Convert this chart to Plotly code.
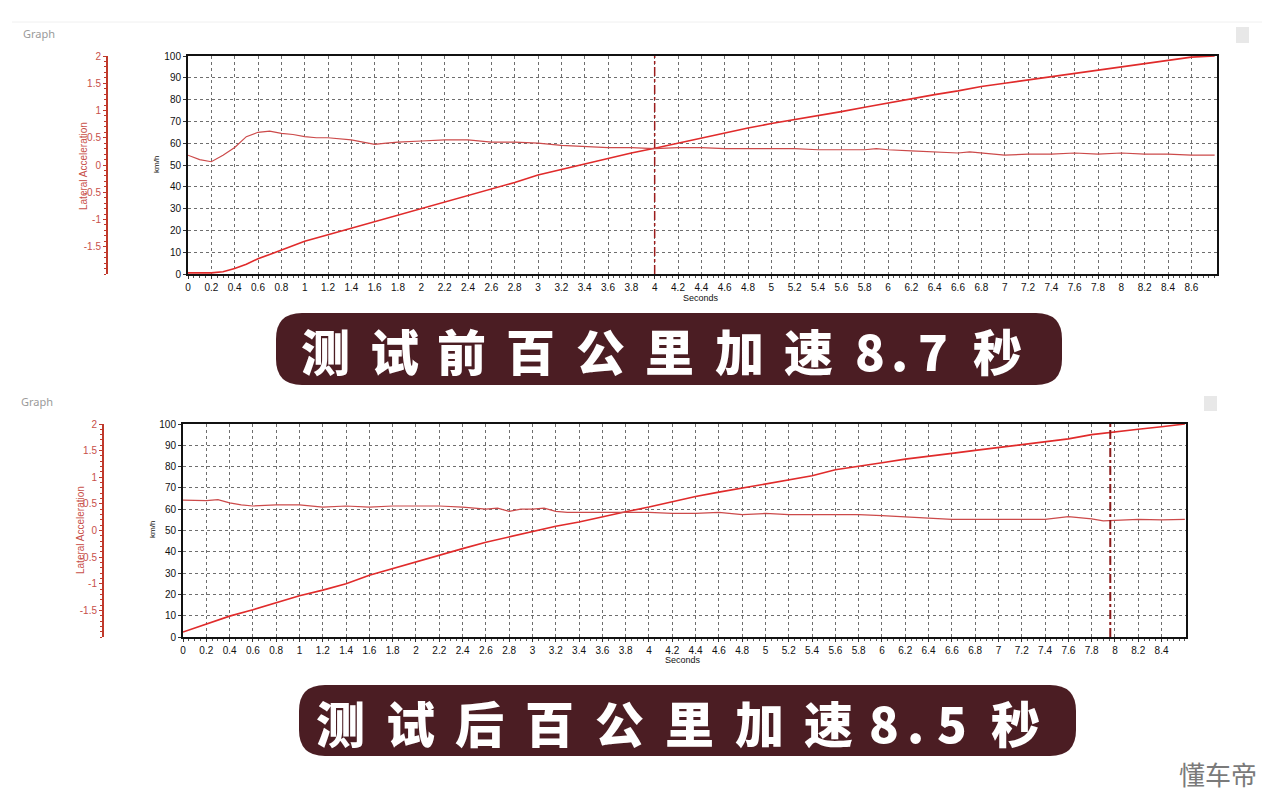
import plotly.graph_objects as go

# page body has an 8px margin: figure is drawn at (8, 8); reference coordinates are shifted
OFF = 8
W, H = 1272, 792

# ---------------- data ----------------
# Top chart (before test): speed (km/h) and lateral acceleration (g)
t1_speed = [0, 0.2, 0.3, 0.4, 0.5, 0.6, 0.7, 0.8, 0.9, 1.0, 1.2, 1.4, 1.6, 1.8, 2.0, 2.2, 2.4, 2.6, 2.8, 3.0,
            3.2, 3.4, 3.6, 3.8, 4.0, 4.2, 4.4, 4.6, 4.8, 5.0, 5.2, 5.4, 5.6, 5.8, 6.0, 6.2, 6.4, 6.6, 6.8,
            7.0, 7.2, 7.4, 7.6, 7.8, 8.0, 8.2, 8.4, 8.6, 8.8]
v1_speed = [0.5, 0.5, 1, 2.5, 4.5, 7, 9, 11, 13, 15, 18, 21, 24, 27, 30.3, 33, 36, 39, 42, 45.4,
            48, 50.5, 53, 55.5, 57.7, 60, 62.5, 64.5, 67, 69, 70.8, 72.5, 74.5, 76.5, 78.5, 80.3, 82.3, 84, 86,
            87.5, 89, 90.5, 92, 93.5, 95, 96.5, 97.8, 99.5, 100]
t1_lat = [0, 0.1, 0.2, 0.3, 0.4, 0.5, 0.6, 0.7, 0.8, 0.9, 1.0, 1.1, 1.2, 1.4, 1.5, 1.6, 1.7, 1.8, 2.0, 2.2,
          2.4, 2.6, 2.8, 3.0, 3.2, 3.4, 3.6, 3.8, 4.0, 4.2, 4.4, 4.6, 4.8, 5.0, 5.2, 5.4, 5.6, 5.8, 5.9,
          6.0, 6.2, 6.4, 6.6, 6.7, 6.8, 7.0, 7.2, 7.4, 7.6, 7.8, 8.0, 8.2, 8.4, 8.6, 8.8]
v1_lat = [0.18, 0.10, 0.06, 0.18, 0.32, 0.52, 0.60, 0.62, 0.58, 0.56, 0.52, 0.50, 0.50, 0.46, 0.42, 0.38,
          0.40, 0.42, 0.44, 0.46, 0.46, 0.42, 0.42, 0.40, 0.36, 0.34, 0.32, 0.32, 0.30, 0.32, 0.32, 0.30,
          0.30, 0.30, 0.30, 0.28, 0.28, 0.28, 0.30, 0.28, 0.26, 0.24, 0.22, 0.24, 0.22, 0.18, 0.20, 0.20,
          0.22, 0.20, 0.22, 0.20, 0.20, 0.18, 0.18]

# Bottom chart (after test)
t2_speed = [0, 0.2, 0.4, 0.6, 0.8, 1.0, 1.2, 1.4, 1.6, 1.8, 2.0, 2.2, 2.4, 2.6, 2.8, 3.0, 3.2, 3.4, 3.6, 3.8,
            4.0, 4.2, 4.4, 4.6, 4.8, 5.0, 5.2, 5.4, 5.6, 5.8, 6.0, 6.2, 6.4, 6.6, 6.8, 7.0, 7.2, 7.4, 7.6,
            7.8, 8.0, 8.2, 8.4, 8.6]
v2_speed = [2.3, 6, 9.8, 12.8, 16, 19.4, 22, 25, 29, 32.2, 35.4, 38.5, 41.5, 44.5, 47, 49.5, 52, 54, 56.5, 58.8,
            61, 63.5, 66, 68, 70, 71.8, 73.8, 75.7, 78.5, 80, 81.8, 83.5, 85, 86.2, 87.6, 89, 90.3, 91.6, 93,
            95, 96.4, 97.5, 98.7, 100]
t2_lat = [0, 0.2, 0.3, 0.4, 0.5, 0.6, 0.8, 1.0, 1.2, 1.4, 1.6, 1.8, 2.0, 2.2, 2.4, 2.6, 2.7, 2.8, 2.9, 3.0,
          3.1, 3.2, 3.3, 3.4, 3.6, 3.8, 4.0, 4.2, 4.4, 4.6, 4.8, 5.0, 5.2, 5.4, 5.6, 5.8, 6.0, 6.2, 6.4,
          6.6, 7.0, 7.4, 7.6, 7.8, 7.9, 8.0, 8.2, 8.4, 8.6]
v2_lat = [0.57, 0.56, 0.58, 0.52, 0.48, 0.46, 0.48, 0.48, 0.44, 0.46, 0.44, 0.46, 0.46, 0.46, 0.44, 0.40,
          0.42, 0.36, 0.40, 0.40, 0.42, 0.36, 0.34, 0.34, 0.34, 0.34, 0.34, 0.32, 0.32, 0.34, 0.30, 0.32,
          0.30, 0.30, 0.30, 0.30, 0.28, 0.26, 0.24, 0.21, 0.21, 0.21, 0.26, 0.22, 0.18, 0.19, 0.21, 0.20, 0.21]

marker1_t = 4.0
marker2_t = 7.96

x1_range = [0, 8.82]
x2_range = [0, 8.61]
x1_ticktext = ["0", "0.2", "0.4", "0.6", "0.8", "1", "1.2", "1.4", "1.6", "1.8", "2", "2.2", "2.4", "2.6",
               "2.8", "3", "3.2", "3.4", "3.6", "3.8", "4", "4.2", "4.4", "4.6", "4.8", "5", "5.2", "5.4",
               "5.6", "5.8", "6", "6.2", "6.4", "6.6", "6.8", "7", "7.2", "7.4", "7.6", "7.8", "8", "8.2",
               "8.4", "8.6"]
x2_ticktext = x1_ticktext[:43]
speed_range = [0, 100]
lat_range = [-2, 2]
lat_ticks = [-1.5, -1, -0.5, 0, 0.5, 1, 1.5, 2]
lat_ticktext = ["-1.5", "-1", "-0.5", "0", "0.5", "1", "1.5", "2"]

title1 = "测试前百公里加速8.7秒"
title2 = "测试后百公里加速8.5秒"
title1_centers = [325, 394, 462, 530, 600, 669, 739, 808, 870, 899, 933, 997]
title2_centers = [340, 410, 480, 549, 619, 689, 759, 828, 884, 915, 952, 1015]
watermark = "懂车帝"

# ---------------- helpers ----------------
def px(x):
    return (x - OFF) / W

def py(y):
    return 1 - (y - OFF) / H

FONT = "Arial, Liberation Sans, sans-serif"
RED_LINE = "#e02b2b"
LAT_LINE = "#cc4a4a"
LAT_AXIS = "#c0392b"
LAT_TEXT = "#c8504a"

fig = go.Figure()

fig.add_trace(go.Scatter(x=t1_lat, y=v1_lat, xaxis="x", yaxis="y3", mode="lines",
                         line=dict(color=LAT_LINE, width=1.2), showlegend=False))
fig.add_trace(go.Scatter(x=t1_speed, y=v1_speed, xaxis="x", yaxis="y", mode="lines",
                         line=dict(color=RED_LINE, width=1.6), showlegend=False))
fig.add_trace(go.Scatter(x=t2_lat, y=v2_lat, xaxis="x2", yaxis="y4", mode="lines",
                         line=dict(color=LAT_LINE, width=1.2), showlegend=False))
fig.add_trace(go.Scatter(x=t2_speed, y=v2_speed, xaxis="x2", yaxis="y2", mode="lines",
                         line=dict(color=RED_LINE, width=1.6), showlegend=False))

def xaxis_cfg(dom, rng, anchor, ticktext):
    tickvals = [float(s) for s in ticktext]
    return dict(domain=dom, range=rng, anchor=anchor, tickmode="array", tickvals=tickvals, ticktext=ticktext,
                showgrid=True, gridcolor="#6e6e6e", griddash="3px,3px", gridwidth=1,
                showline=True, linecolor="#111", linewidth=2, mirror=True,
                ticks="outside", ticklen=3, tickcolor="#333",
                minor=dict(tickmode="linear", tick0=0, dtick=0.05, ticks="outside", ticklen=2,
                           tickcolor="#555", showgrid=False),
                tickfont=dict(family=FONT, size=10, color="#111"), zeroline=False, fixedrange=True,
                automargin=False)

def yaxis_cfg(dom, anchor):
    return dict(domain=dom, range=speed_range, anchor=anchor, dtick=10,
                showgrid=True, gridcolor="#6e6e6e", griddash="3px,3px", gridwidth=1,
                showline=True, linecolor="#111", linewidth=2, mirror=True,
                ticks="outside", ticklen=3, tickcolor="#333",
                tickfont=dict(family=FONT, size=10, color="#111"), zeroline=False, fixedrange=True,
                automargin=False)

def lat_cfg(over, pos):
    return dict(overlaying=over, anchor="free", position=pos, side="left", range=lat_range,
                tickvals=lat_ticks, ticktext=lat_ticktext, showgrid=False, zeroline=False,
                showline=True, linecolor=LAT_AXIS, linewidth=2,
                ticks="outside", ticklen=3, tickcolor=LAT_AXIS,
                minor=dict(tickmode="linear", tick0=0, dtick=0.1, ticks="outside", ticklen=2,
                           tickcolor=LAT_AXIS),
                tickfont=dict(family=FONT, size=10, color=LAT_TEXT), fixedrange=True,
                automargin=False)

fig.update_layout(
    template="none",
    width=W, height=H, autosize=False,
    margin=dict(l=0, r=0, t=0, b=0, pad=0, autoexpand=False),
    paper_bgcolor="white", plot_bgcolor="white",
    xaxis=xaxis_cfg([px(188), px(1217)], x1_range, "y", x1_ticktext),
    yaxis=yaxis_cfg([py(274), py(56)], "x"),
    yaxis3=lat_cfg("y", px(107)),
    xaxis2=xaxis_cfg([px(183), px(1186)], x2_range, "y2", x2_ticktext),
    yaxis2=yaxis_cfg([py(637), py(424)], "x2"),
    yaxis4=lat_cfg("y2", px(103)),
)

shapes = []
annotations = []

shapes.append(dict(type="line", xref="paper", yref="paper", x0=px(12), x1=px(1262), y0=py(22), y1=py(22),
                   line=dict(color="#f0f0f0", width=1)))
shapes.append(dict(type="rect", xref="paper", yref="paper", x0=px(1236), x1=px(1249), y0=py(43), y1=py(27),
                   fillcolor="#e8e8e8", line=dict(width=0)))
shapes.append(dict(type="rect", xref="paper", yref="paper", x0=px(1204), x1=px(1217), y0=py(411), y1=py(396),
                   fillcolor="#e8e8e8", line=dict(width=0)))

shapes.append(dict(type="line", xref="x", yref="y domain", x0=marker1_t, x1=marker1_t, y0=0, y1=1,
                   line=dict(color="#9b1c1c", width=1.5, dash="dashdot")))
shapes.append(dict(type="line", xref="x2", yref="y2 domain", x0=marker2_t, x1=marker2_t, y0=0, y1=1,
                   line=dict(color="#8b1a1a", width=2, dash="dashdot")))

def rounded(x0, y0, x1, y1, r):
    p = []
    p.append(f"M {px(x0 + r)},{py(y0)}")
    p.append(f"L {px(x1 - r)},{py(y0)}")
    p.append(f"Q {px(x1)},{py(y0)} {px(x1)},{py(y0 + r)}")
    p.append(f"L {px(x1)},{py(y1 - r)}")
    p.append(f"Q {px(x1)},{py(y1)} {px(x1 - r)},{py(y1)}")
    p.append(f"L {px(x0 + r)},{py(y1)}")
    p.append(f"Q {px(x0)},{py(y1)} {px(x0)},{py(y1 - r)}")
    p.append(f"L {px(x0)},{py(y0 + r)}")
    p.append(f"Q {px(x0)},{py(y0)} {px(x0 + r)},{py(y0)}")
    p.append("Z")
    return " ".join(p)

BANNER = "#4b1d23"
shapes.append(dict(type="path", xref="paper", yref="paper", path=rounded(276, 313, 1062, 385, 26),
                   fillcolor=BANNER, line=dict(width=0)))
shapes.append(dict(type="path", xref="paper", yref="paper", path=rounded(299, 685, 1076, 756, 26),
                   fillcolor=BANNER, line=dict(width=0)))

def banner_text(text, centers, yc):
    for ch, cx in zip(text, centers):
        annotations.append(dict(text=ch, x=px(cx), y=py(yc), xref="paper", yref="paper",
                                showarrow=False, xanchor="center", yanchor="middle",
                                font=dict(family="Noto Sans CJK SC", size=49, color="white", weight=900)))

banner_text(title1, title1_centers, 349)
banner_text(title2, title2_centers, 721)

def label(text, x, y, size, color, angle=0, family=FONT, xanchor="center"):
    annotations.append(dict(text=text, x=px(x), y=py(y), xref="paper", yref="paper", showarrow=False,
                            xanchor=xanchor, yanchor="middle", textangle=angle,
                            font=dict(family=family, size=size, color=color)))

label("Graph", 21, 33, 11, "#9a9a9a", family="Noto Sans, sans-serif", xanchor="left")
label("Graph", 19, 402, 11, "#9a9a9a", family="Noto Sans, sans-serif", xanchor="left")
label("Lateral Acceleration", 83, 166, 10, LAT_TEXT, angle=-90)
label("Lateral Acceleration", 80, 530, 10, LAT_TEXT, angle=-90)
label("km/h", 157, 165, 8, "#111", angle=-90)
label("km/h", 152, 530, 8, "#111", angle=-90)
label("Seconds", 701, 298, 9, "#111")
label("Seconds", 683, 660, 9, "#111")
label(watermark, 1218, 773, 26, "#7a7a7a", family="Noto Sans CJK SC")

fig.update_layout(shapes=shapes, annotations=annotations)
fig.write_html("out.html")
